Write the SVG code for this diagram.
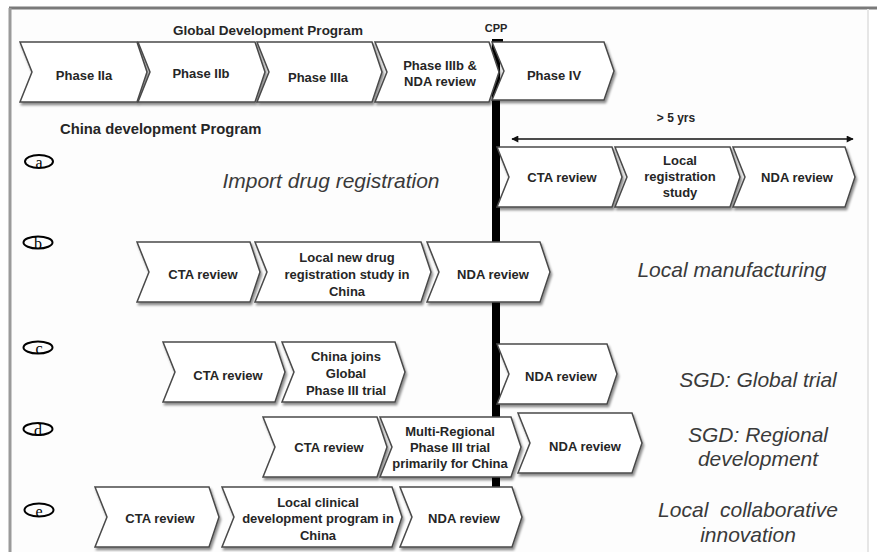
<svg xmlns="http://www.w3.org/2000/svg" width="877" height="552" viewBox="0 0 877 552">
<style>
.chev{fill:#fff;stroke:#4a4a4a;stroke-width:1.5;stroke-linejoin:miter;filter:url(#sh)}
.t{font-family:"Liberation Sans",Arial,sans-serif;font-weight:bold;font-size:13px;fill:#262626;text-anchor:middle}
.h{font-family:"Liberation Sans",Arial,sans-serif;font-weight:bold;fill:#262626}
.it{font-family:"Liberation Sans",Arial,sans-serif;font-style:italic;font-size:21px;fill:#3a3a3a;text-anchor:middle}
.circ{fill:none;stroke:#000;stroke-width:2}
.lt{font-family:"Liberation Serif","Times New Roman",serif;font-size:16px;fill:#000;text-anchor:middle}
</style>
<defs>
<filter id="sh" x="-10%" y="-10%" width="125%" height="135%">
<feDropShadow dx="1.5" dy="2.5" stdDeviation="1.3" flood-color="#000" flood-opacity="0.45"/>
</filter>
<marker id="ah" viewBox="0 0 10 10" refX="9" refY="5" markerWidth="10" markerHeight="7" markerUnits="userSpaceOnUse" orient="auto-start-reverse">
<path d="M0,0 L10,5 L0,10 Z" fill="#111"/>
</marker>
</defs>
<rect width="877" height="552" fill="#fff"/>
<rect x="10" y="8" width="858" height="544" fill="#fdfdfd"/>
<line x1="9" y1="8" x2="877" y2="8" stroke="#7a7a7a" stroke-width="3"/>
<line x1="10" y1="8" x2="10" y2="552" stroke="#9a9a9a" stroke-width="3"/>
<line x1="868" y1="9" x2="868" y2="552" stroke="#e6e6e6" stroke-width="2"/>

<text class="h" x="268" y="35" font-size="13.5" text-anchor="middle">Global Development Program</text>
<text class="h" x="496" y="32" font-size="11" text-anchor="middle">CPP</text>
<text class="h" x="60" y="134" font-size="14.8">China development Program</text>
<text class="h" x="676" y="122" font-size="12" text-anchor="middle">&gt; 5 yrs</text>

<g id="cpp-bar">
<rect x="492" y="40" width="8" height="447" fill="#000"/>
<rect x="492" y="39" width="11" height="3" fill="#000"/>
</g>

<g id="connectors">
<line x1="512" y1="139" x2="853" y2="139" stroke="#111" stroke-width="1.5" marker-start="url(#ah)" marker-end="url(#ah)"/>
</g>

<g id="global-phase-iia"><path class="chev" d="M20,42 L137,42 L147,72 L137,102 L20,102 L32,72 Z"/><text class="t" x="84" y="80" font-size="12.5">Phase IIa</text></g>
<g id="global-phase-iib"><path class="chev" d="M138,42 L255,42 L265,72 L255,102 L138,102 L150,72 Z"/><text class="t" x="201" y="78" font-size="12.5">Phase IIb</text></g>
<g id="global-phase-iiia"><path class="chev" d="M257,42 L372,42 L382,72 L372,102 L257,102 L269,72 Z"/><text class="t" x="318" y="82" font-size="12.5">Phase IIIa</text></g>
<g id="global-phase-iiib"><path class="chev" d="M375,42 L489,42 L499,72 L489,102 L375,102 L387,72 Z"/><text class="t" x="440" y="70" font-size="12.5">Phase IIIb &amp;</text><text class="t" x="440" y="86" font-size="12.5">NDA review</text></g>
<g id="global-phase-iv"><path class="chev" d="M492,42 L604,42 L614,71 L604,100 L492,100 L504,71 Z"/><text class="t" x="554" y="80" font-size="12.5">Phase IV</text></g>

<g id="label-a"><ellipse class="circ" cx="39" cy="161.5" rx="14" ry="6.5"/><text class="lt" x="39" y="168">a</text></g>
<g id="label-b"><ellipse class="circ" cx="38" cy="242.5" rx="14.5" ry="6"/><text class="lt" x="38" y="249">b</text></g>
<g id="label-c"><ellipse class="circ" cx="38" cy="347.5" rx="14.5" ry="6"/><text class="lt" x="39" y="354">c</text></g>
<g id="label-d"><ellipse class="circ" cx="38" cy="429" rx="14.5" ry="6"/><text class="lt" x="38" y="435.5">d</text></g>
<g id="label-e"><ellipse class="circ" cx="39" cy="510" rx="14.5" ry="6.5"/><text class="lt" x="39" y="516.5">e</text></g>

<g id="a-import"><text class="it" x="331" y="188">Import drug registration</text></g>
<g id="a-cta"><path class="chev" d="M497,147 L612,147 L622,177 L612,207 L497,207 L509,177 Z"/><text class="t" x="562" y="182">CTA review</text></g>
<g id="a-local-reg"><path class="chev" d="M615,147 L730,147 L740,177 L730,207 L615,207 L627,177 Z"/><text class="t" x="680" y="165">Local</text><text class="t" x="680" y="181">registration</text><text class="t" x="680" y="197">study</text></g>
<g id="a-nda"><path class="chev" d="M733,147 L845,147 L855,177 L845,207 L733,207 L745,177 Z"/><text class="t" x="797" y="182">NDA review</text></g>

<g id="b-cta"><path class="chev" d="M137,242 L250,242 L260,272 L250,302 L137,302 L149,272 Z"/><text class="t" x="203" y="279">CTA review</text></g>
<g id="b-local-new"><path class="chev" d="M255,242 L421,242 L431,272 L421,302 L255,302 L267,272 Z"/><text class="t" x="347" y="262">Local new drug</text><text class="t" x="347" y="279">registration study in</text><text class="t" x="347" y="296">China</text></g>
<g id="b-nda"><path class="chev" d="M427,242 L540,242 L550,272 L540,302 L427,302 L439,272 Z"/><text class="t" x="493" y="279">NDA review</text></g>
<g id="b-local-manufacturing"><text class="it" x="732" y="277">Local manufacturing</text></g>

<g id="c-cta"><path class="chev" d="M163,342 L275,342 L285,372 L275,402 L163,402 L175,372 Z"/><text class="t" x="228" y="380">CTA review</text></g>
<g id="c-china-joins"><path class="chev" d="M282,342 L395,342 L405,372 L395,402 L282,402 L294,372 Z"/><text class="t" x="346" y="361">China joins</text><text class="t" x="346" y="378">Global</text><text class="t" x="346" y="395">Phase III trial</text></g>
<g id="c-nda"><path class="chev" d="M497,344 L607,344 L617,374 L607,404 L497,404 L509,374 Z"/><text class="t" x="561" y="381">NDA review</text></g>
<g id="c-sgd-global"><text class="it" x="758" y="387">SGD: Global trial</text></g>

<g id="d-cta"><path class="chev" d="M263,417 L377,417 L387,447 L377,477 L263,477 L275,447 Z"/><text class="t" x="329" y="452">CTA review</text></g>
<g id="d-mrct"><path class="chev" d="M380,417 L511,417 L521,447 L511,477 L380,477 L392,447 Z"/><text class="t" x="450" y="436">Multi-Regional</text><text class="t" x="450" y="452">Phase III trial</text><text class="t" x="450" y="468">primarily for China</text></g>
<g id="d-nda"><path class="chev" d="M518,413 L632,413 L642,443 L632,473 L518,473 L530,443 Z"/><text class="t" x="585" y="451">NDA review</text></g>
<g id="d-sgd-regional"><text class="it" x="758" y="442">SGD: Regional</text><text class="it" x="758" y="466">development</text></g>

<g id="e-cta"><path class="chev" d="M95,487 L209,487 L219,517 L209,547 L95,547 L107,517 Z"/><text class="t" x="160" y="523">CTA review</text></g>
<g id="e-local-clinical"><path class="chev" d="M222,487 L392,487 L402,517 L392,547 L222,547 L234,517 Z"/><text class="t" x="318" y="507">Local clinical</text><text class="t" x="318" y="523">development program in</text><text class="t" x="318" y="540">China</text></g>
<g id="e-nda"><path class="chev" d="M400,487 L512,487 L522,517 L512,547 L400,547 L412,517 Z"/><text class="t" x="464" y="523">NDA review</text></g>
<g id="e-local-collab"><text class="it" x="748" y="517" xml:space="preserve">Local  collaborative</text><text class="it" x="748" y="542">innovation</text></g>
</svg>
